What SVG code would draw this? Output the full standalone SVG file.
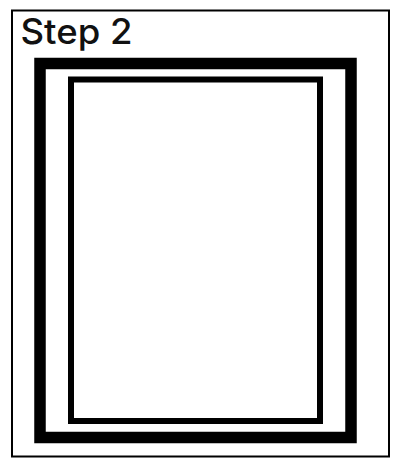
<svg xmlns="http://www.w3.org/2000/svg" width="400" height="468" viewBox="0 0 400 468">
<style>
.frame{fill:none;stroke:#000}
.label{font-family:Inter,"Noto Sans",sans-serif;font-size:35px;font-weight:500;fill:#111}
</style>
<rect width="400" height="468" fill="#fff"/>
<g id="step2">
<rect class="frame" x="12" y="10.5" width="377" height="446" stroke-width="2"/>
<text class="label" x="20.5" y="43.5" textLength="112" lengthAdjust="spacingAndGlyphs">Step 2</text>
</g>
<g id="outer-frame">
<rect class="frame" x="40" y="63.5" width="311" height="374" stroke-width="11.5"/>
</g>
<g id="inner-frame">
<rect class="frame" x="71" y="79.5" width="249" height="341.5" stroke-width="6"/>
</g>
<g id="connectors"></g>
</svg>
